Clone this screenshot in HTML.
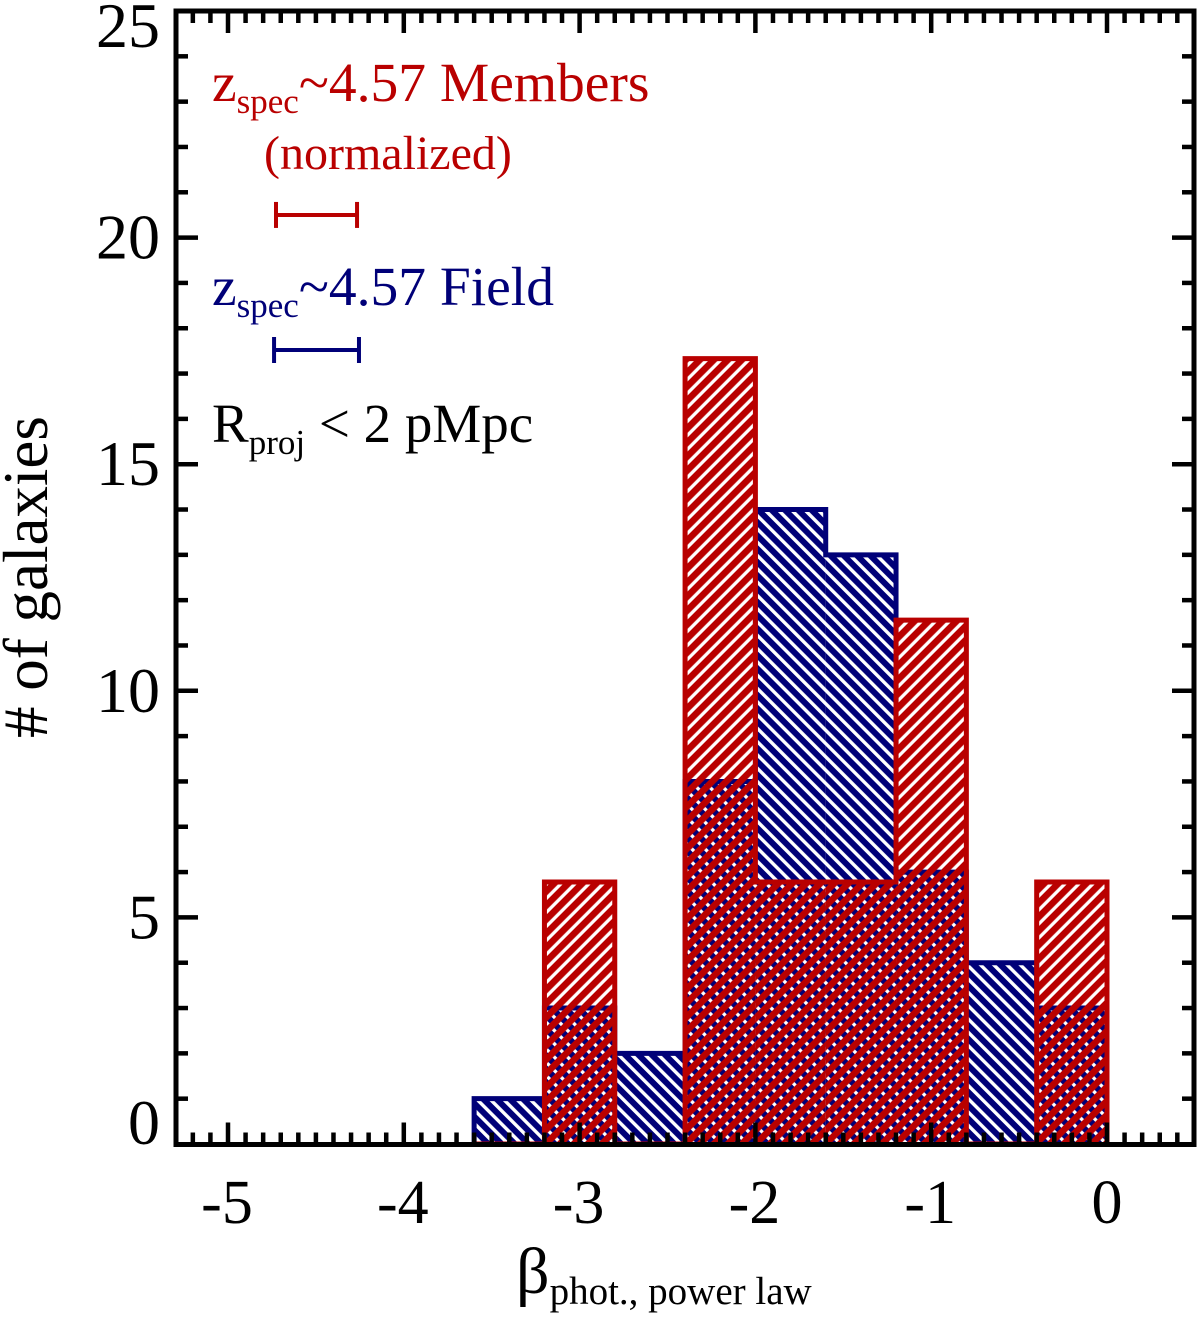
<!DOCTYPE html>
<html><head><meta charset="utf-8"><title>Histogram of UV slopes</title>
<style>
html,body{margin:0;padding:0;background:#fff;width:1200px;height:1317px;overflow:hidden}
svg{display:block}
text{font-family:"Liberation Serif",serif}
</style></head>
<body>
<svg id="chart" width="1200" height="1317" viewBox="0 0 1200 1317" xmlns="http://www.w3.org/2000/svg">
<defs>
<pattern id="hatch-red" patternUnits="userSpaceOnUse" width="9.9" height="9.9" patternTransform="translate(2 3) rotate(-45)"><rect width="9.9" height="6.6" fill="#b90000"/></pattern>
<pattern id="hatch-blue" patternUnits="userSpaceOnUse" width="9.4" height="9.4" patternTransform="translate(1 1) rotate(45)"><rect width="9.4" height="6" fill="#000078"/></pattern>
</defs>
<g id="bars"></g>
<g id="axes"></g>
<g id="labels"></g>
<text transform="translate(47 738) rotate(-90)" font-size="63" fill="#000"># of galaxies</text>
<text x="516" y="1293" font-size="66" fill="#000">β<tspan font-size="39" dy="11">phot., power law</tspan></text>
<text x="212" y="101" font-size="55.5" fill="#b90000">z<tspan font-size="35" dy="12">spec</tspan><tspan dy="-12">~4.57 Members</tspan></text>
<text x="264" y="169" font-size="48" fill="#b90000">(normalized)</text>
<text x="212" y="305" font-size="55.5" fill="#000078">z<tspan font-size="35" dy="12">spec</tspan><tspan dy="-12">~4.57 Field</tspan></text>
<text x="212" y="442" font-size="55" fill="#000">R<tspan font-size="35" dy="12">proj</tspan><tspan dy="-12"> &lt; 2 pMpc</tspan></text>
</svg>
<script>
const binEdges = [-3.6, -3.2, -2.8, -2.4, -2.0, -1.6, -1.2, -0.8, -0.4, 0.0];
const fieldCounts = [1, 3, 2, 8, 14, 13, 6, 4, 3];
const memberCounts = [0, 5.78, 0, 17.33, 5.78, 5.78, 11.56, 0, 5.78];
const xTickValues = [-5, -4, -3, -2, -1, 0];
const yTickValues = [0, 5, 10, 15, 20, 25];
const memberErrorBar = { lo: -4.727, hi: -4.266, y: 20.5 };
const fieldErrorBar = { lo: -4.738, hi: -4.255, y: 17.52 };

const NS = 'http://www.w3.org/2000/svg';
const xScale = v => 1107 + v * 175.8;
const yScale = v => 1144 - v * 45.32;
const plot = { left: 176, right: 1194, top: 11, bottom: 1144.5 };

function mk(parent, tag, attrs) {
  const el = document.createElementNS(NS, tag);
  for (const k in attrs) el.setAttribute(k, attrs[k]);
  parent.appendChild(el);
  return el;
}

const barsG = document.getElementById('bars');
const axesG = document.getElementById('axes');
const labelsG = document.getElementById('labels');

function drawHist(counts, fillId, stroke, seriesName) {
  const g = mk(barsG, 'g', {});
  
  
  let d = '';
  let prev = 0;
  counts.forEach((c, i) => {
    const x0 = xScale(binEdges[i]);
    const x1 = xScale(binEdges[i + 1]);
    if (c > 0) {
      const bar = mk(g, 'rect', { x: x0, y: yScale(c), width: x1 - x0, height: yScale(0) - yScale(c), fill: 'url(#' + fillId + ')' });
      
      
    }
    d += (i === 0 ? 'M' + x0 + ' ' + yScale(prev) : '') + ' L' + x0 + ' ' + yScale(c) + ' L' + x1 + ' ' + yScale(c);
    prev = c;
  });
  d += ' L' + xScale(binEdges[counts.length]) + ' ' + yScale(0);
  const outline = mk(g, 'path', { d: d, fill: 'none', stroke: stroke, 'stroke-width': 5, 'stroke-linejoin': 'miter' });
  
  
}
drawHist(fieldCounts, 'hatch-blue', '#000078', 'field-histogram');
drawHist(memberCounts, 'hatch-red', '#b90000', 'members-histogram');

function drawErrorBar(e, color, name) {
  const g = mk(labelsG, 'g', { stroke: color, 'stroke-width': 4, fill: 'none' });
  
  
  const y = yScale(e.y);
  mk(g, 'line', { x1: xScale(e.lo), x2: xScale(e.hi), y1: y, y2: y });
  mk(g, 'line', { x1: xScale(e.lo), x2: xScale(e.lo), y1: y - 13, y2: y + 13 });
  mk(g, 'line', { x1: xScale(e.hi), x2: xScale(e.hi), y1: y - 13, y2: y + 13 });
}
drawErrorBar(memberErrorBar, '#b90000', 'members-error-bar');
drawErrorBar(fieldErrorBar, '#000078', 'field-error-bar');

function tick(x1, y1, x2, y2, name) {
  const t = mk(axesG, 'line', { x1: x1, y1: y1, x2: x2, y2: y2, stroke: '#000', 'stroke-width': 4.5 });
  
  
}

const xMin = xTickValues[0] - 1;
const xMax = xTickValues[xTickValues.length - 1] + 1;
for (let n = xMin * 10; n <= xMax * 10; n++) {
  const v = n / 10;
  const px = xScale(v);
  if (px <= plot.left + 3 || px >= plot.right - 3) continue;
  const major = n % 10 === 0;
  const len = major ? 22 : 12;
  tick(px, plot.bottom, px, plot.bottom - len, major ? 'x-major-tick' : 'x-minor-tick');
  tick(px, plot.top, px, plot.top + len, major ? 'x-major-tick' : 'x-minor-tick');
}
const yMax = yTickValues[yTickValues.length - 1];
for (let v = 1; v < yMax; v++) {
  const py = yScale(v);
  const major = v % 5 === 0;
  const len = major ? 22 : 12;
  tick(plot.left, py, plot.left + len, py, major ? 'y-major-tick' : 'y-minor-tick');
  tick(plot.right, py, plot.right - len, py, major ? 'y-major-tick' : 'y-minor-tick');
}

const frame = mk(axesG, 'rect', { x: plot.left, y: plot.top, width: plot.right - plot.left, height: plot.bottom - plot.top, fill: 'none', stroke: '#000', 'stroke-width': 5 });



xTickValues.forEach(v => {
  const t = mk(labelsG, 'text', { x: xScale(v) - (v < 0 ? 1 : 0), y: 1223, 'font-size': 62, 'text-anchor': 'middle', fill: '#000' });
  
  
  t.textContent = String(v);
});
yTickValues.forEach(v => {
  const base = Math.min(1144, Math.max(47, yScale(v) + 21));
  const t = mk(labelsG, 'text', { x: 160, y: base, 'font-size': 64, 'text-anchor': 'end', fill: '#000' });
  
  
  t.textContent = String(v);
});
</script>
</body></html>
